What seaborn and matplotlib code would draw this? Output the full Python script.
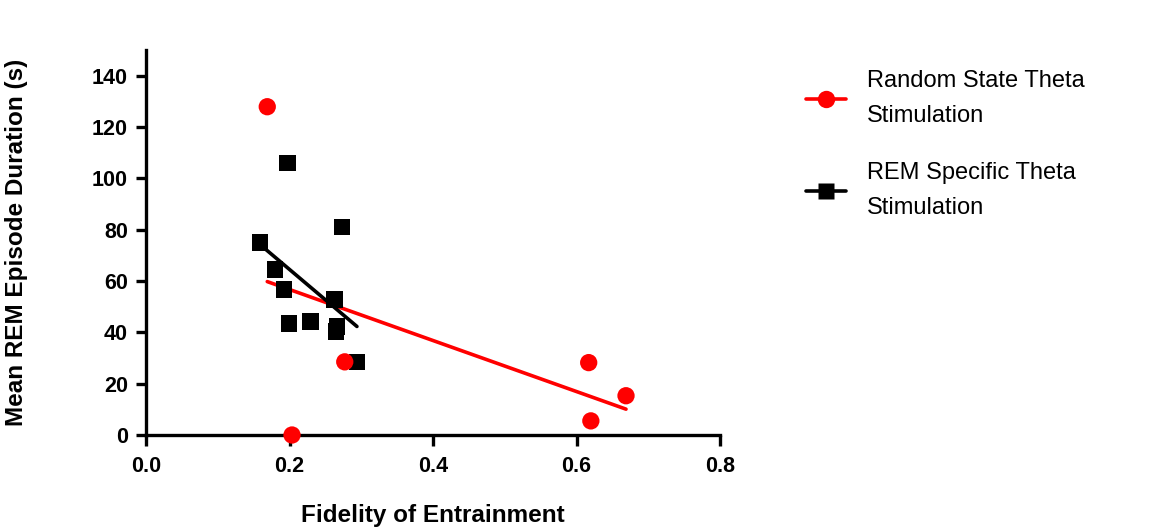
import numpy as np
import pandas as pd
import seaborn as sns
import matplotlib
matplotlib.use("Agg")
import matplotlib.pyplot as plt
from matplotlib.lines import Line2D

# ---- data ----
random_x = [0.169, 0.2035, 0.277, 0.617, 0.620, 0.669]
random_y = [127.9, 0.0, 28.5, 28.2, 5.5, 15.3]

rem_x = [0.159, 0.180, 0.192, 0.197, 0.199, 0.229, 0.273, 0.263, 0.266, 0.265, 0.294]
rem_y = [75.0, 64.5, 56.7, 106.0, 43.4, 44.2, 81.0, 52.8, 42.2, 40.3, 28.5]

series_labels = ["Random State Theta\nStimulation", "REM Specific Theta\nStimulation"]
x_label = "Fidelity of Entrainment"
y_label = "Mean REM Episode Duration (s)"
x_ticks = [0.0, 0.2, 0.4, 0.6, 0.8]
y_ticks = [0, 20, 40, 60, 80, 100, 120, 140]

sns.set_theme(style="ticks")
plt.rcParams["font.family"] = ["Liberation Sans", "DejaVu Sans"]
plt.rcParams["text.color"] = "black"
plt.rcParams["axes.labelcolor"] = "black"
plt.rcParams["xtick.color"] = "black"
plt.rcParams["ytick.color"] = "black"

fig = plt.figure(figsize=(11.54, 5.31), dpi=100)
ax = fig.add_axes([146 / 1154, 96 / 531, 574 / 1154, 385 / 531])

red = "#ff0000"
black = "#000000"

df_r = pd.DataFrame({"x": random_x, "y": random_y})
df_b = pd.DataFrame({"x": rem_x, "y": rem_y})

# regression lines
sns.regplot(data=df_r, x="x", y="y", ax=ax, scatter=False, ci=None, truncate=True,
            line_kws=dict(color=red, lw=2.6, zorder=3))
sns.regplot(data=df_b, x="x", y="y", ax=ax, scatter=False, ci=None, truncate=True,
            line_kws=dict(color=black, lw=2.6, zorder=4))
# points
sns.scatterplot(data=df_b, x="x", y="y", ax=ax, marker="s", s=140, color=black,
                edgecolor="none", zorder=5, clip_on=False, legend=False)
sns.scatterplot(data=df_r, x="x", y="y", ax=ax, marker="o", s=155, color=red,
                edgecolor="none", zorder=6, clip_on=False, legend=False)

ax.set_xlim(0, 0.8)
ax.set_ylim(0, 150)
ax.set_xticks(x_ticks)
ax.set_xticklabels([f"{v:.1f}" for v in x_ticks])
ax.set_yticks(y_ticks)
ax.set_yticklabels([str(v) for v in y_ticks])

for s in ["top", "right"]:
    ax.spines[s].set_visible(False)
for s in ["left", "bottom"]:
    ax.spines[s].set_linewidth(2.4)
    ax.spines[s].set_color("black")
    ax.spines[s].set_zorder(2)

ax.tick_params(axis="both", length=7, width=2.4, color="black", labelcolor="black",
               labelsize=15.5, pad=6)
ax.tick_params(axis="x", length=8, pad=7)
for lab in ax.get_xticklabels() + ax.get_yticklabels():
    lab.set_fontweight("bold")

ax.set_xlabel(x_label, fontsize=17.5, fontweight="bold", color="black")
ax.xaxis.set_label_coords(0.5, -0.18)
ax.set_ylabel(y_label, fontsize=17.5, fontweight="bold", color="black")
ax.yaxis.set_label_coords(-0.205, 0.5)

handles = [
    Line2D([0], [0], color=red, lw=2.6, marker="o", markersize=12.5, markeredgecolor="none"),
    Line2D([0], [0], color=black, lw=2.6, marker="s", markersize=11.5, markeredgecolor="none"),
]
leg = fig.legend(handles, series_labels, loc="upper left",
                 bbox_to_anchor=(806 / 1154, (531 - 70) / 531),
                 frameon=False, fontsize=17, handlelength=1.7, handletextpad=0.9,
                 labelspacing=1.5, borderpad=0, borderaxespad=0)
for t in leg.get_texts():
    t.set_linespacing(1.75)
    t.set_color("black")

fig.savefig("out.png", dpi=100)
